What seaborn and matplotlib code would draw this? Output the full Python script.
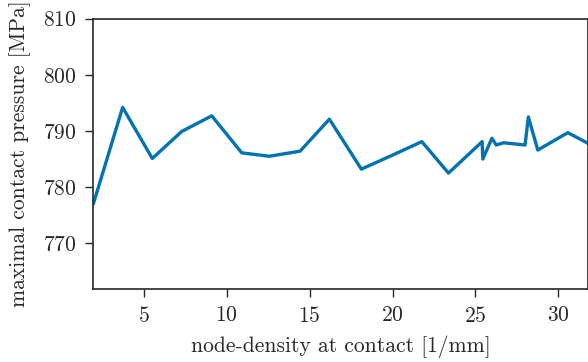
import matplotlib
matplotlib.use("Agg")
import matplotlib.pyplot as plt
import seaborn as sns
import pandas as pd

# node density at contact [1/mm] and the resulting maximal contact pressure [MPa]
node_density = [1.94, 3.71, 5.50, 7.27, 9.09, 10.90, 12.56, 14.42, 16.19, 18.12,
                20.00, 21.77, 23.38, 25.41, 25.45, 26.00, 26.26, 26.70, 28.00,
                28.20, 28.77, 30.58, 31.80]
max_pressure = [777.0, 794.2, 785.1, 789.9, 792.7, 786.1, 785.5, 786.4, 792.1, 783.2,
                785.7, 788.1, 782.5, 788.1, 785.0, 788.7, 787.5, 787.9, 787.5,
                792.5, 786.6, 789.7, 787.8]

x_ticks = [5, 10, 15, 20, 25, 30]
y_ticks = [770, 780, 790, 800, 810]

sns.set_style("ticks")
plt.rcParams["font.family"] = ["serif"]
plt.rcParams["font.serif"] = ["cmr10", "DejaVu Serif"]
plt.rcParams["mathtext.fontset"] = "cm"
plt.rcParams["axes.formatter.use_mathtext"] = True

df = pd.DataFrame({"density": node_density, "pressure": max_pressure})

fig = plt.figure(figsize=(5.88, 3.62), dpi=100)
ax = fig.add_axes([0.1587, 0.2017, 0.8413, 0.7466])

sns.lineplot(data=df, x="density", y="pressure", ax=ax,
             color=sns.color_palette("colorblind")[0], linewidth=2.4,
             sort=False, estimator=None)

ax.set_xlim(1.94, 31.8)
ax.set_ylim(761.85, 810)
ax.set_xticks(x_ticks)
ax.set_yticks(y_ticks)

fs = 15.5
ax.set_xlabel("node-density at contact [1/mm]", fontsize=fs, color=".15", labelpad=7)
ax.set_ylabel("maximal contact pressure [MPa]", fontsize=fs, color=".15", labelpad=9)
ax.tick_params(axis="both", labelsize=fs, length=6, width=1.0, colors=".15", pad=6)

for side in ("left", "bottom", "top", "right"):
    ax.spines[side].set_linewidth(1.2)
    ax.spines[side].set_color(".15")

fig.savefig("out.png", dpi=100)
